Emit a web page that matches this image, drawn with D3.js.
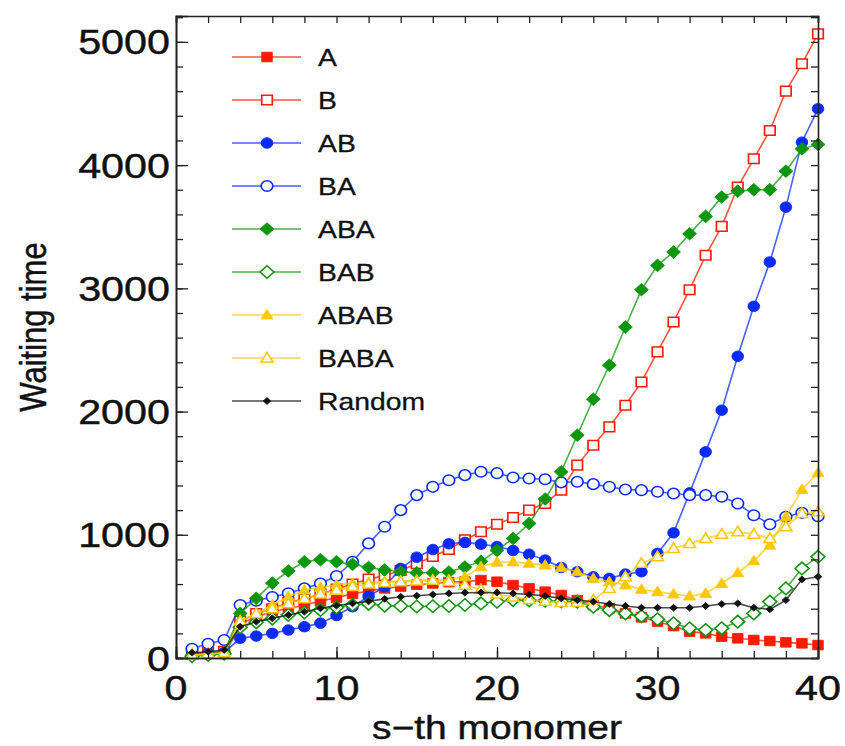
<!DOCTYPE html>
<html>
<head>
<meta charset="utf-8">
<script src="https://cdn.jsdelivr.net/npm/d3@7"></script>
<style>
  body { margin: 0; background: #fff; }
  svg { display: block; font-family: "Liberation Sans", Arial, sans-serif; }
  text { fill: #111; stroke: #111; stroke-width: 0.45px; }
</style>
</head>
<body>
<div id="chart"></div>
<script>
// s-th monomer positions
const monomer = [1,2,3,4,5,6,7,8,9,10,11,12,13,14,15,16,17,18,19,20,
                 21,22,23,24,25,26,27,28,29,30,31,32,33,34,35,36,37,38,39,40];

// waiting time per sequence
const seqA = [30,40,50,280,330,380,400,430,460,490,520,545,565,580,595,605,615,620,632,619,
              592,565,538,511,470,430,403,362,330,295,259,214,200,173,160,146,138,127,119,105];
const seqB = [35,45,55,300,360,400,450,480,520,560,600,640,670,710,765,825,880,960,1024,1085,
              1140,1200,1255,1362,1565,1727,1876,2051,2240,2484,2727,2989,3268,3503,3822,4051,4281,4600,4822,5065];
const seqAB = [30,40,45,160,178,200,227,254,283,345,416,500,578,727,818,880,927,938,924,905,
               873,842,795,735,700,659,646,681,700,849,1016,1340,1673,2011,2449,2854,3214,3659,4186,4457];
const seqBA = [75,115,146,430,465,495,525,565,605,665,781,930,1065,1200,1322,1389,1443,1484,1511,1500,
               1465,1457,1451,1425,1430,1411,1389,1368,1362,1349,1335,1322,1322,1308,1254,1159,1086,1146,1178,1151];
const seqABA = [20,30,45,362,484,608,706,781,798,781,760,735,714,700,692,692,698,738,784,873,
                970,1092,1290,1511,1808,2100,2376,2686,2989,3186,3295,3443,3584,3741,3789,3800,3800,3951,4132,4168];
const seqBAB = [15,25,35,250,290,320,350,370,390,410,430,440,425,422,418,420,422,430,443,457,
                470,468,465,460,457,416,389,362,340,314,281,241,227,241,295,362,457,565,727,822];
const seqABAB = [20,30,40,300,362,430,497,551,573,595,605,615,620,625,630,632,636,659,740,778,
                 780,768,754,735,700,646,619,592,557,538,519,503,524,605,692,789,916,1146,1368,1503];
const seqBABA = [25,35,45,300,360,400,440,480,520,550,580,600,610,619,625,630,620,590,555,520,
                 495,475,460,450,452,470,565,659,768,822,889,930,970,1005,1024,1005,970,1065,1173,1186];
const seqRandom = [43,51,65,254,295,322,349,376,403,425,443,460,480,497,505,515,524,530,532,530,
                   524,516,503,484,470,457,438,422,408,408,408,408,422,438,443,408,395,470,638,659];

const seriesNames = ["A", "B", "AB", "BA", "ABA", "BAB", "ABAB", "BABA", "Random"];
const seriesValues = [seqA, seqB, seqAB, seqBA, seqABA, seqBAB, seqABAB, seqBABA, seqRandom];
const seriesColors = ["#ff1a00", "#ff1a00", "#0a2bff", "#0a2bff", "#0b960b", "#0b960b",
                      "#ffc800", "#ffc800", "#111111"];
const seriesShapes = ["square", "square", "circle", "circle", "diamond", "diamond",
                      "triangle", "triangle", "dot"];
const seriesFilled = [true, false, true, false, true, false, true, false, true];

const xTicks = [0, 10, 20, 30, 40];
const yTicks = [0, 1000, 2000, 3000, 4000, 5000];

const width = 845, height = 746;
const margin = { left: 176, right: 27, top: 16, bottom: 88 };
const stretch = 1.18; // the original figure is slightly wider than tall

const svg = d3.select("#chart").append("svg")
    .attr("width", width)
    .attr("height", height);

const x = d3.scaleLinear().domain([0, 40]).range([margin.left, width - margin.right]);
const y = d3.scaleLinear().domain([0, 5210]).range([height - margin.bottom, margin.top]);

// marker path for a given shape, centred on 0,0
function markerPath(shape) {
    if (shape === "square") return "M-4.8,-4.8H4.8V4.8H-4.8Z";
    if (shape === "circle") return "M-5.3,0A5.3,5.3 0 1,0 5.3,0A5.3,5.3 0 1,0 -5.3,0Z";
    if (shape === "diamond") return "M0,-6.3L6.3,0L0,6.3L-6.3,0Z";
    if (shape === "triangle") return "M0,-5.6L5.4,4L-5.4,4Z";
    return "M0,-3.4L3.4,0L0,3.4L-3.4,0Z";
}

// lines and markers
const line = d3.line()
    .x((d, i) => x(monomer[i]))
    .y(d => y(d));

const plot = svg.append("g");

seriesValues.forEach((vals, k) => {
    const g = plot.append("g");
    g.append("path")
        .datum(vals)
        .attr("fill", "none")
        .attr("stroke", seriesColors[k])
        .attr("stroke-opacity", 0.75)
        .attr("stroke-width", 1.6)
        .attr("d", line);

    g.selectAll("path.mk")
        .data(vals)
        .enter().append("path")
        .attr("class", "mk")
        .attr("d", markerPath(seriesShapes[k]))
        .attr("transform", (d, i) => `translate(${x(monomer[i])},${y(d)}) scale(1.1,1)`)
        .attr("fill", seriesFilled[k] ? seriesColors[k] : "#fff")
        .attr("stroke", seriesColors[k])
        .attr("stroke-width", seriesFilled[k] ? 0.8 : 1.5);
});

// frame with inward ticks on all four sides
const x0 = x.range()[0], x1 = x.range()[1];
const y0 = y.range()[0], y1 = y.range()[1];

const minorX = d3.range(0, 41, 2);
const minorY = d3.range(0, 5201, 200);

const axisBottom = d3.axisBottom(x).tickValues(minorX).tickSize(-7).tickFormat("");
const axisTop = d3.axisTop(x).tickValues(minorX).tickSize(-7).tickFormat("");
const axisLeft = d3.axisLeft(y).tickValues(minorY).tickSize(-7).tickFormat("");
const axisRight = d3.axisRight(y).tickValues(minorY).tickSize(-7).tickFormat("");

svg.append("g").attr("transform", `translate(0,${y0})`).call(axisBottom);
svg.append("g").attr("transform", `translate(0,${y1})`).call(axisTop);
svg.append("g").attr("transform", `translate(${x0},0)`).call(axisLeft);
svg.append("g").attr("transform", `translate(${x1},0)`).call(axisRight);

// longer major ticks
svg.append("g").attr("transform", `translate(0,${y0})`)
    .call(d3.axisBottom(x).tickValues(xTicks).tickSize(-11).tickFormat(""));
svg.append("g").attr("transform", `translate(${x0},0)`)
    .call(d3.axisLeft(y).tickValues(yTicks).tickSize(-12).tickFormat(""));

svg.selectAll(".domain").attr("stroke", "#222").attr("stroke-width", 1.6);
svg.selectAll(".tick line").attr("stroke", "#222").attr("stroke-width", 1.3);

// tick labels
svg.append("g").selectAll("text")
    .data(xTicks)
    .enter().append("text")
    .attr("text-anchor", "middle")
    .attr("transform", d => `translate(${x(d)},${y0 + 42}) scale(${stretch},1)`)
    .style("font-size", "35px")
    .text(d => d);

svg.append("g").selectAll("text")
    .data(yTicks)
    .enter().append("text")
    .attr("text-anchor", "end")
    .attr("transform", d => `translate(${x0 - 6},${y(d) + 12.5}) scale(${stretch},1)`)
    .style("font-size", "35px")
    .text(d => d);

// axis titles
svg.append("text")
    .attr("text-anchor", "middle")
    .attr("transform", `translate(${(x0 + x1) / 2},739) scale(${stretch},1)`)
    .style("font-size", "33px")
    .text("s\u2212th monomer");

svg.append("text")
    .attr("text-anchor", "middle")
    .attr("transform", `translate(46,327) rotate(-90) scale(1,${stretch})`)
    .style("font-size", "31px")
    .text("Waiting time");

// legend
const legend = svg.append("g").attr("transform", "translate(232,57)");
const legendRow = 43.0;

seriesNames.forEach((name, k) => {
    const row = legend.append("g").attr("transform", `translate(0,${k * legendRow})`);
    row.append("line")
        .attr("x1", 0).attr("x2", 69)
        .attr("stroke", seriesColors[k])
        .attr("stroke-opacity", 0.75)
        .attr("stroke-width", 1.6);
    row.append("path")
        .attr("d", markerPath(seriesShapes[k]))
        .attr("transform", "translate(35,0) scale(1.1,1)")
        .attr("fill", seriesFilled[k] ? seriesColors[k] : "#fff")
        .attr("stroke", seriesColors[k])
        .attr("stroke-width", seriesFilled[k] ? 0.8 : 1.5);
    row.append("text")
        .attr("transform", `translate(86,9) scale(${stretch},1)`)
        .style("font-size", "24px")
        .style("stroke-width", "0.3px")
        .text(name);
});
</script>
</body>
</html>
